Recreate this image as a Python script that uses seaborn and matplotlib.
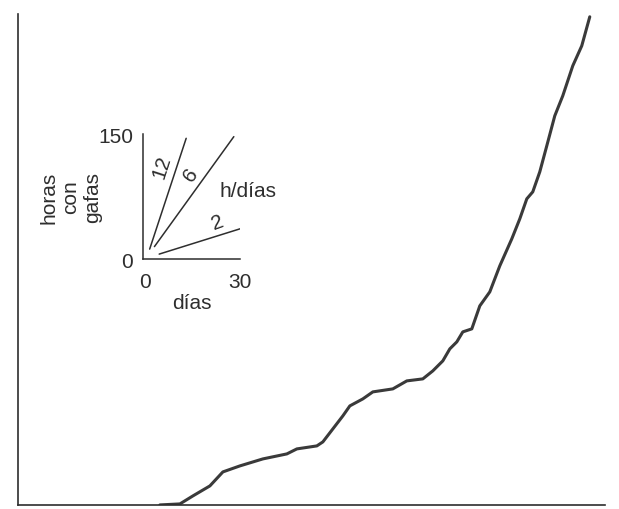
import numpy as np
import pandas as pd
import matplotlib
matplotlib.use("Agg")
import matplotlib.pyplot as plt
import seaborn as sns

# main curve: cumulative hours with glasses vs days (arbitrary units, no ticks)
dias = [142, 162, 175, 192, 205, 222, 245, 269, 279, 299, 305, 315, 325, 332,
        345, 355, 375, 389, 405, 415, 425, 432, 439, 445, 454, 462, 472, 482,
        494, 502, 509, 515, 522, 529, 537, 545, 555, 564, 572]
horas = [0, 1, 9, 19, 33, 39, 46, 51, 56, 59, 63, 76, 89, 99,
         106, 113, 116, 124, 126, 134, 144, 156, 163, 173, 176, 199, 213, 239,
         266, 286, 306, 313, 333, 359, 389, 409, 439, 459, 488]

# inset reference lines (h/dias)
tasas = ["12", "6", "2"]
inset_x0 = [1.5, 3.0, 4.5]
inset_x1 = [13.0, 28.0, 30.5]
inset_y0 = [12, 15, 6]
inset_y1 = [145, 147, 37]

sns.set_style("white")
plt.rcParams["font.family"] = ["Liberation Sans", "DejaVu Sans"]
INK = "#2e2e2e"
FS = 15

fig = plt.figure(figsize=(6.19, 5.10), dpi=100)

ax = fig.add_axes([0.029, 0.008, 0.948, 0.963])
df = pd.DataFrame({"dias": dias, "horas": horas})
sns.lineplot(data=df, x="dias", y="horas", ax=ax, color="#3a3a3a", linewidth=2.2)
ax.set_xlim(0, 587)
ax.set_ylim(0, 491)
ax.set_xticks([])
ax.set_yticks([])
ax.set_xlabel("")
ax.set_ylabel("")
for s in ["top", "right"]:
    ax.spines[s].set_visible(False)
for s in ["left", "bottom"]:
    ax.spines[s].set_color(INK)
    ax.spines[s].set_linewidth(1.2)

# inset
ins = fig.add_axes([0.231, 0.490, 0.157, 0.245])
rows = []
for t, xa, xb, ya, yb in zip(tasas, inset_x0, inset_x1, inset_y0, inset_y1):
    rows.append({"tasa": t, "x": xa, "y": ya})
    rows.append({"tasa": t, "x": xb, "y": yb})
dfi = pd.DataFrame(rows)
sns.lineplot(data=dfi, x="x", y="y", units="tasa", estimator=None, ax=ins,
             color=INK, linewidth=1.1)
ins.set_xlim(-0.6, 30)
ins.set_ylim(0, 150)
ins.set_facecolor("none")
for s in ["top", "right"]:
    ins.spines[s].set_visible(False)
for s in ["left", "bottom"]:
    ins.spines[s].set_color(INK)
    ins.spines[s].set_linewidth(1.1)
ins.set_xticks([0, 15, 30])
ins.set_xticklabels(["0", "", "30"])
ins.set_yticks([0, 75, 150])
ins.set_yticklabels(["0", "", "150"])
ins.tick_params(axis="x", direction="in", length=5, width=1, color=INK,
                labelsize=FS, labelcolor=INK, pad=9)
ins.tick_params(axis="y", direction="out", length=5, width=1, color=INK,
                labelsize=FS, labelcolor=INK, pad=2)
ins.set_xlabel("días", fontsize=FS, color=INK, labelpad=2)
ins.set_ylabel("horas\ncon\ngafas", fontsize=FS, color=INK, linespacing=1.2)
ins.yaxis.set_label_coords(-0.42, 0.5)

ins.text(5.3, 112, "12", rotation=72, fontsize=FS, color=INK, ha="center", va="center")
ins.text(14.5, 102, "6", rotation=55, fontsize=FS, color=INK, ha="center", va="center")
ins.text(23, 45, "2", rotation=20, fontsize=FS, color=INK, ha="center", va="center")
ins.text(23.5, 82, "h/días", fontsize=FS, color=INK, ha="left", va="center")

fig.savefig("out.png", dpi=100)
